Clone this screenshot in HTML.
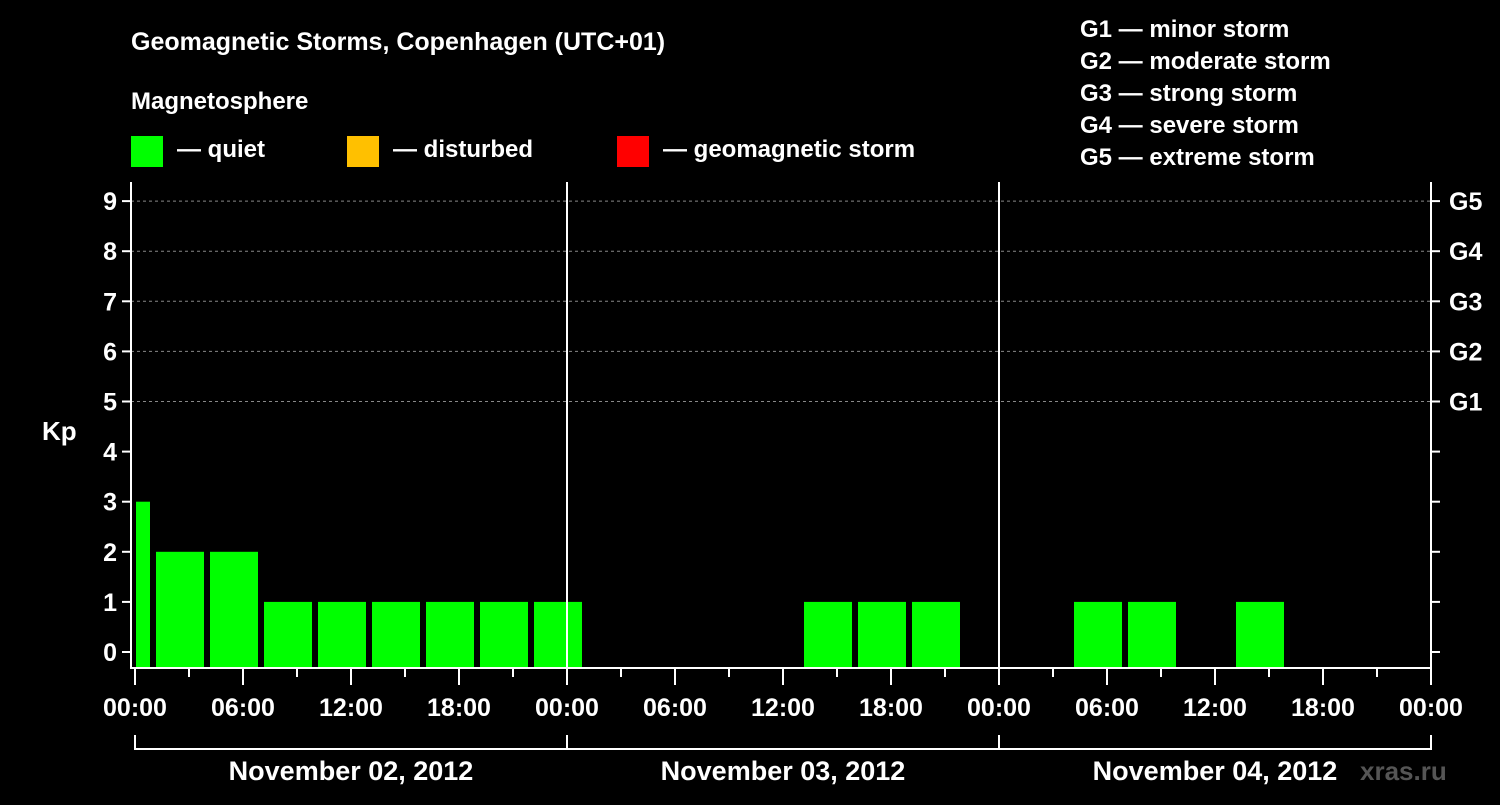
<!DOCTYPE html>
<html><head><meta charset="utf-8"><style>
body{margin:0;background:#000;width:1500px;height:800px;overflow:hidden}
svg text{font-family:"Liberation Sans",Arial,sans-serif;font-weight:bold;fill:#fff}
</style></head><body>
<svg id="c" width="1500" height="800" xmlns="http://www.w3.org/2000/svg">
<text x="131" y="50" font-size="25">Geomagnetic Storms, Copenhagen (UTC+01)</text>
<text x="131" y="109" font-size="24">Magnetosphere</text>
<g><rect x="131" y="136" width="32" height="31" fill="#00ff00"/><text x="177" y="157" font-size="24">— quiet</text></g>
<g><rect x="347" y="136" width="32" height="31" fill="#ffc000"/><text x="393" y="157" font-size="24">— disturbed</text></g>
<g><rect x="617" y="136" width="32" height="31" fill="#ff0000"/><text x="663" y="157" font-size="24">— geomagnetic storm</text></g>
<g font-size="24">
<text x="1080" y="37">G1 — minor storm</text><text x="1080" y="69">G2 — moderate storm</text><text x="1080" y="101">G3 — strong storm</text><text x="1080" y="133">G4 — severe storm</text><text x="1080" y="165">G5 — extreme storm</text></g>
<text x="42" y="440" font-size="26">Kp</text>
<text x="1360" y="780" font-size="26" fill="#555" style="fill:#555">xras.ru</text>
<g id="plot"></g>
</svg>
<script>
const kpValues=[3,2,2,1,1,1,1,1,1,0,0,0,0,1,1,1,0,0,1,1,0,1,0,0,0];
const startHour=-2;
const dayLabels=["November 02, 2012","November 03, 2012","November 04, 2012"];
const hourLabels=["00:00","06:00","12:00","18:00"];
const yTicks=[0,1,2,3,4,5,6,7,8,9];
const gLabels=["G1","G2","G3","G4","G5"];
const NS="http://www.w3.org/2000/svg";
const g=document.getElementById('plot');
const x0=135,pxH=18,L=131,R=1431,T=182,B=667;
const X=h=>x0+h*pxH;
const Y=v=>652-v*50.1;
function mk(t,a,p){const e=document.createElementNS(NS,t);for(const k in a)e.setAttribute(k,a[k]);(p||g).appendChild(e);return e;}
// grid
[5,6,7,8,9].forEach(v=>{const e=mk('line',{x1:L,x2:R,y1:Y(v),y2:Y(v),stroke:'#888','stroke-dasharray':'3,3','stroke-width':1});

});
// bars
kpValues.forEach((v,i)=>{if(v<=0)return;const h=startHour+i*3;let a=X(h)+3,b=X(h)+51;a=Math.max(a,x0+1);b=Math.min(b,R-1);
const col=v>=5?'#ff0000':(v>=4?'#ffc000':'#00ff00');
const e=mk('rect',{x:a,y:Y(v),width:b-a,height:B-Y(v),fill:col});

});
// day separators
[1,2].forEach(d=>{const e=mk('line',{x1:X(d*24),x2:X(d*24),y1:T,y2:B,stroke:'#fff','stroke-width':2});

});
// frame
const fr=mk('path',{d:`M${L} ${T}V${B+1}H${R}V${T}`,fill:'none',stroke:'#fff','stroke-width':2});


// y ticks
yTicks.forEach(v=>{mk('line',{x1:L-9,x2:L,y1:Y(v),y2:Y(v),stroke:'#fff','stroke-width':2});mk('line',{x1:R,x2:R+9,y1:Y(v),y2:Y(v),stroke:'#fff','stroke-width':2});
const t=mk('text',{x:L-14,y:Y(v)+9,'font-size':25,'text-anchor':'end'});t.textContent=v;

});
gLabels.forEach((s,i)=>{const t=mk('text',{x:1449,y:Y(5+i)+9,'font-size':25});t.textContent=s;

});
// x ticks
for(let h=0;h<=72;h+=3){const maj=h%6===0;mk('line',{x1:X(h),x2:X(h),y1:B+2,y2:B+(maj?18:10),stroke:'#fff','stroke-width':2});
if(maj){const t=mk('text',{x:X(h),y:716,'font-size':25,'text-anchor':'middle'});t.textContent=hourLabels[(h%24)/6];

}}
// day brackets
dayLabels.forEach((s,d)=>{mk('path',{d:`M${X(d*24)} 735V749H${X(d*24+24)}V735`,fill:'none',stroke:'#fff','stroke-width':2});
const t=mk('text',{x:X(d*24+12),y:780,'font-size':27,'text-anchor':'middle'});t.textContent=s;

});
</script>
</body></html>
